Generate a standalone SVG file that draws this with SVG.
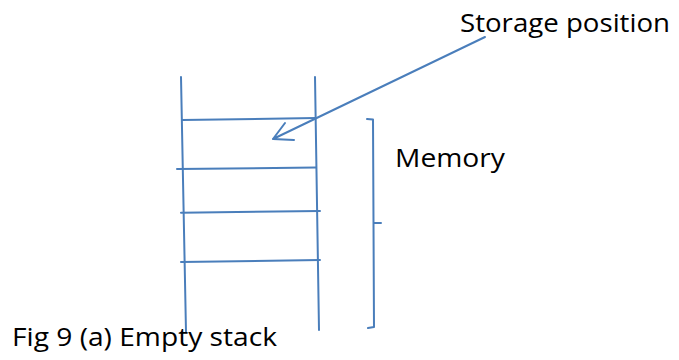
<svg xmlns="http://www.w3.org/2000/svg" width="679" height="360" viewBox="0 0 679 360">
  <style>
    .ln { stroke: #4a7ebb; stroke-width: 2; fill: none; stroke-linecap: round; stroke-linejoin: round; }
    .lbl { font-family: "Open Sans", "Liberation Sans", sans-serif; font-size: 26px; fill: #000; }
  </style>
  <rect width="679" height="360" fill="#fff"/>
  <g id="stack">
    <path class="ln" d="M181,77 L186,332"/>
    <path class="ln" d="M315,77 L319,330"/>
    <path class="ln" d="M182,120 L316,118"/>
    <path class="ln" d="M177,169 L316,167.5"/>
    <path class="ln" d="M181,212.7 L320,211"/>
    <path class="ln" d="M181,262 L320,260"/>
  </g>
  <g id="memory-brace">
    <path class="ln" d="M367,119 L373,119.5 L374,327 L368,328 M373.5,223 L381,223"/>
    <text class="lbl" x="395" y="167" textLength="110" lengthAdjust="spacingAndGlyphs">Memory</text>
  </g>
  <g id="connectors">
    <path class="ln" d="M485,37 L273,139 M285,123 L273,139 L294,140"/>
  </g>
  <g id="storage-label">
    <text class="lbl" x="460" y="32" textLength="210" lengthAdjust="spacingAndGlyphs">Storage position</text>
  </g>
  <g id="caption">
    <text class="lbl" x="12" y="346" textLength="265" lengthAdjust="spacingAndGlyphs">Fig 9 (a) Empty stack</text>
  </g>
</svg>
